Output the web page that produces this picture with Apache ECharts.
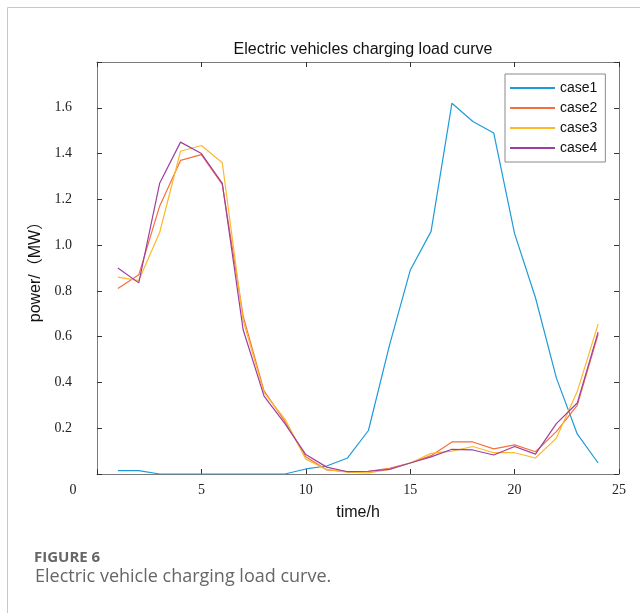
<!DOCTYPE html>
<html>
<head>
<meta charset="utf-8">
<script src="https://cdn.jsdelivr.net/npm/echarts@6/dist/echarts.min.js"></script>
<style>
html,body{margin:0;padding:0;background:#fff;}
#c{width:640px;height:613px;}
</style>
</head>
<body>
<div id="c"></div>
<script>
var hours = [1,2,3,4,5,6,7,8,9,10,11,12,13,14,15,16,17,18,19,20,21,22,23,24];
var case1 = [0.015,0.015,0.0,0.0,0.0,0.0,0.0,0.0,0.0,0.022,0.035,0.07,0.19,0.56,0.89,1.06,1.62,1.54,1.49,1.05,0.77,0.42,0.175,0.048];
var case2 = [0.81,0.87,1.17,1.37,1.395,1.265,0.69,0.363,0.23,0.075,0.018,0.01,0.012,0.025,0.048,0.08,0.14,0.14,0.11,0.127,0.097,0.185,0.30,0.61];
var case3 = [0.86,0.845,1.055,1.41,1.435,1.36,0.67,0.355,0.24,0.065,0.02,0.008,0.005,0.02,0.048,0.09,0.10,0.12,0.093,0.093,0.07,0.157,0.36,0.655];
var case4 = [0.90,0.835,1.27,1.45,1.40,1.27,0.63,0.34,0.22,0.085,0.03,0.01,0.012,0.02,0.048,0.075,0.108,0.105,0.083,0.12,0.087,0.22,0.31,0.62];
var seriesNames = ['case1','case2','case3','case4'];
var seriesColors = ['#1e9bd7','#f4703f','#fdb92c','#9e3fa0'];
var xTicks = [0,5,10,15,20,25];
var yTickLabels = ['0.2','0.4','0.6','0.8','1.0','1.2','1.4','1.6'];

var chart = echarts.init(document.getElementById('c'), null, {renderer:'canvas'});
var allData = [case1, case2, case3, case4];
function pairs(arr){ return hours.map(function(h,i){ return [h, arr[i]]; }); }

var tickFont = 'Liberation Serif';
var boxLine = {show:true, onZero:false, lineStyle:{color:'#7a7a7a', width:1}};
var inTick = {show:true, inside:true, length:5, lineStyle:{color:'#333'}};
var option = {
  animation:false,
  backgroundColor:'#fff',
  title:{
    text:'Electric vehicles charging load curve',
    left:358, top:37, textAlign:'center',
    textStyle:{fontFamily:'Liberation Sans', fontSize:16, fontWeight:'normal', color:'#111'}
  },
  legend:{
    orient:'vertical', left:505, top:74,
    data:seriesNames,
    itemWidth:45, itemHeight:2, itemGap:4, icon:'rect',
    padding:[6,8,6,5],
    borderColor:'#8a8a8a', borderWidth:1,
    textStyle:{fontFamily:'Liberation Sans', fontSize:14, color:'#111', lineHeight:16}
  },
  grid:{left:97, right:21, top:62, bottom:139, containLabel:false},
  xAxis:[{
    type:'value', min:0, max:25, interval:5,
    position:'bottom',
    name:'time/h', nameLocation:'middle', nameGap:31,
    nameTextStyle:{fontFamily:'Liberation Sans', fontSize:16, color:'#111'},
    axisLine:boxLine, axisTick:inTick,
    splitLine:{show:false},
    axisLabel:{
      show:true, margin:9, fontFamily:tickFont, fontSize:14, color:'#222',
      formatter:function(v){ if (xTicks.indexOf(v) < 0) return ''; return v===0 ? '{z|0}' : String(v); },
      rich:{z:{fontFamily:tickFont, fontSize:14, color:'#222', padding:[0,48,0,0]}}
    }
  },{
    type:'value', min:0, max:25, interval:5, position:'top',
    axisLine:boxLine, axisTick:inTick,
    axisLabel:{show:false}, splitLine:{show:false}
  }],
  yAxis:[{
    type:'value', min:0, max:1.8, interval:0.2, position:'left',
    name:'power/（MW）', nameLocation:'middle', nameGap:45, nameRotate:90,
    nameTextStyle:{fontFamily:'Liberation Sans, Noto Sans CJK SC', fontSize:16, color:'#111'},
    axisLine:boxLine, axisTick:inTick,
    splitLine:{show:false},
    axisLabel:{
      show:true, margin:25, fontFamily:tickFont, fontSize:14, color:'#222',
      formatter:function(v){ var s = v.toFixed(1); return yTickLabels.indexOf(s) >= 0 ? s : ''; }
    }
  },{
    type:'value', min:0, max:1.8, interval:0.2, position:'right',
    axisLine:boxLine, axisTick:inTick,
    axisLabel:{show:false}, splitLine:{show:false}
  }],
  series: seriesNames.map(function(n,i){
    return {
      name:n, type:'line', xAxisIndex:0, yAxisIndex:0,
      data:pairs(allData[i]),
      showSymbol:false, symbol:'none',
      lineStyle:{color:seriesColors[i], width:1.2},
      itemStyle:{color:seriesColors[i]},
      z: 2 + i
    };
  }),
  graphic:[
    {type:'line', shape:{x1:7.5, y1:7.5, x2:640, y2:7.5}, style:{stroke:'#c8c8c8', lineWidth:1}, silent:true},
    {type:'line', shape:{x1:7.5, y1:7.5, x2:7.5, y2:613}, style:{stroke:'#c8c8c8', lineWidth:1}, silent:true},
    {type:'text', left:34, top:550, style:{text:'FIGURE 6', font:'bold 15px "Open Sans", "Liberation Sans"', fill:'#666'}},
    {type:'text', left:35, top:568, style:{text:'Electric vehicle charging load curve.', font:'18px "Open Sans", "Liberation Sans"', fill:'#666'}}
  ]
};
chart.setOption(option);
</script>
</body>
</html>
